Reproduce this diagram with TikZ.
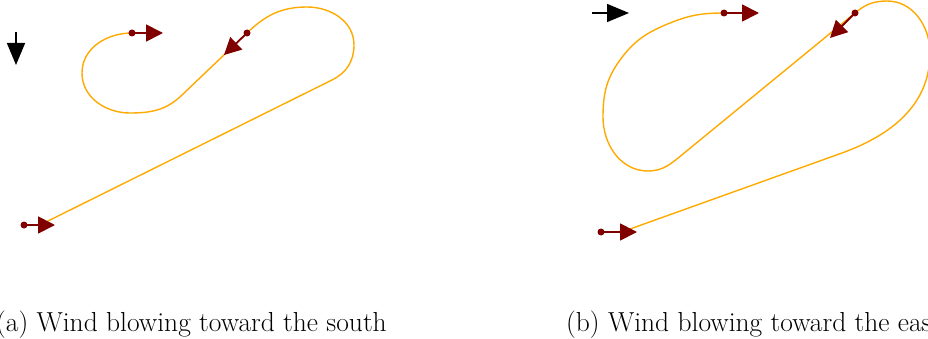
\documentclass[tikz,border=0pt]{standalone}
\usepackage{fontspec}
\usetikzlibrary{arrows.meta}
\definecolor{trackorange}{RGB}{255,170,0}
\definecolor{headingred}{RGB}{128,0,0}
\tikzstyle{every picture}=[x=1pt, y=1pt]
\tikzstyle{track}=[draw=trackorange, line width=1.4pt]
\tikzstyle{heading}=[draw=headingred, line width=1.8pt, -{Triangle[length=17pt, width=17pt]}]
\tikzstyle{pose}=[circle, fill=headingred, inner sep=0pt, minimum size=7pt]
\tikzstyle{wind}=[line width=1.6pt, -{Triangle[length=22pt, width=18pt]}]
\tikzstyle{caption}=[inner sep=0pt, font=\fontsize{27.5}{32}\selectfont]

\begin{document}
\begin{tikzpicture}
\useasboundingbox (0,0) rectangle (928,338);
\clip (0,0) rectangle (928,338);

% (a) wind toward the south
\coordinate (aWindTail) at (16,306);
\coordinate (aWindTip) at (16,273);

\coordinate (aStart) at (24,113);
\coordinate (aLineIn) at (44,115);
\coordinate (aLineOut) at (332,258);
\coordinate (aRight) at (354,293);
\coordinate (aTop) at (307,331);
\coordinate (aMid) at (247,305);
\coordinate (aLineIn2) at (182,243);
\coordinate (aBottom) at (130,225);
\coordinate (aLeft) at (82,265);
\coordinate (aEnd) at (132,305);

\draw[track] (aStart) to[out=0, in=206.5] (aLineIn) -- (aLineOut)
  to[out=26.5, in=270] (aRight) to[out=90, in=0] (aTop)
  to[out=180, in=44] (aMid) -- (aLineIn2)
  to[out=224, in=0] (aBottom) to[out=180, in=270] (aLeft)
  to[out=90, in=180] (aEnd);

\draw[wind] (aWindTail) -- (aWindTip);

\node[pose] (aStartPose) at (aStart) {};
\node[pose] (aMidPose) at (aMid) {};
\node[pose] (aEndPose) at (aEnd) {};
\coordinate (aStartTip) at (55,113);
\coordinate (aMidTip) at (224,283);
\coordinate (aEndTip) at (163,305);
\draw[heading] (aStartPose.center) -- (aStartTip);
\draw[heading] (aMidPose.center) -- (aMidTip);
\draw[heading] (aEndPose.center) -- (aEndTip);

\node[caption, anchor=base east] (aCaption) at (387,7) {(a) Wind blowing toward the south};

% (b) wind toward the east
\coordinate (bWindTail) at (592,325);
\coordinate (bWindTip) at (629,325);

\coordinate (bStart) at (601,106);
\coordinate (bLineIn) at (630,109);
\coordinate (bLineOut) at (842,185);
\coordinate (bRight) at (930,285);
\coordinate (bTop) at (887,337);
\coordinate (bMid) at (855,325);
\coordinate (bLineIn2) at (683,184);
\coordinate (bBottom) at (648,167);
\coordinate (bLeft) at (603,221);
\coordinate (bUpper) at (620,278);
\coordinate (bUpper2) at (670,315);
\coordinate (bEnd) at (724,325);

\draw[track] (bStart) to[out=0, in=199] (bLineIn) -- (bLineOut)
  to[out=20, in=270] (bRight) to[out=90, in=0] (bTop)
  to[out=180, in=40] (bMid) -- (bLineIn2)
  to[out=219.5, in=0] (bBottom) to[out=180, in=270] (bLeft)
  to[out=90, in=234] (bUpper) to[out=54, in=202] (bUpper2)
  to[out=22, in=180] (bEnd);

\draw[wind] (bWindTail) -- (bWindTip);

\node[pose] (bStartPose) at (bStart) {};
\node[pose] (bMidPose) at (bMid) {};
\node[pose] (bEndPose) at (bEnd) {};
\coordinate (bStartTip) at (637,106);
\coordinate (bMidTip) at (830,300);
\coordinate (bEndTip) at (759,325);
\draw[heading] (bStartPose.center) -- (bStartTip);
\draw[heading] (bMidPose.center) -- (bMidTip);
\draw[heading] (bEndPose.center) -- (bEndTip);

\node[caption, anchor=base west] (bCaption) at (566,7) {(b) Wind blowing toward the east};
\end{tikzpicture}
\end{document}
